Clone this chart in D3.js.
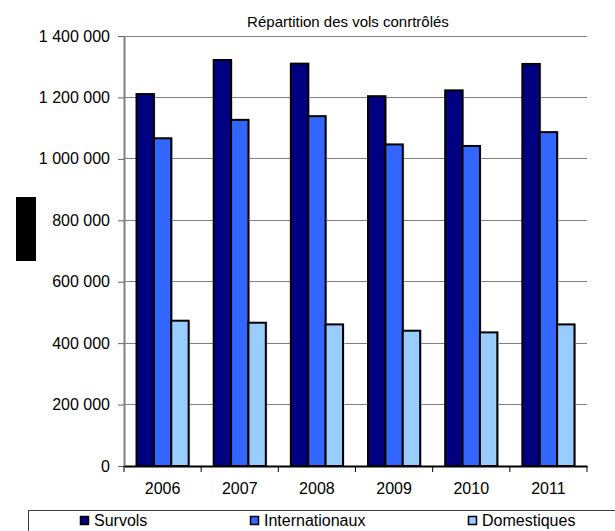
<!DOCTYPE html>
<html>
<head>
<meta charset="utf-8">
<script src="https://cdn.jsdelivr.net/npm/d3@7"></script>
<style>
  body { margin: 0; background: #fff; }
  svg { display: block; font-family: "Liberation Sans", Arial, sans-serif; }
</style>
</head>
<body>
<svg id="chart" width="615" height="531"></svg>
<script>
// data
const years = ["2006", "2007", "2008", "2009", "2010", "2011"];
const seriesNames = ["Survols", "Internationaux", "Domestiques"];
const survols        = [1211000, 1322000, 1310000, 1204000, 1223000, 1309000];
const internationaux = [1067000, 1127000, 1139000, 1047000, 1042000, 1087000];
const domestiques    = [473000, 466500, 461000, 440500, 435000, 461000];
const yTicks = [0, 200000, 400000, 600000, 800000, 1000000, 1200000, 1400000];

const colors = ["#000080", "#3366FF", "#99CCFF"];
const allSeries = [survols, internationaux, domestiques];

const svg = d3.select("#chart");

// plot area
const plotL = 124, plotR = 587, plotT = 36, plotB = 466;

const x = d3.scaleBand().domain(years).range([plotL, plotR]).padding(0);
const xSub = d3.scaleBand().domain(seriesNames).range([0, x.bandwidth()])
  .paddingInner(0).paddingOuter(0.72);
const y = d3.scaleLinear().domain([0, 1400000]).range([plotB, plotT]);

const fmt = v => d3.format(",")(v).replace(/,/g, " ");

// gridlines
svg.append("g")
  .selectAll("line")
  .data(yTicks.filter(d => d > 0))
  .join("line")
    .attr("x1", plotL).attr("x2", plotR)
    .attr("y1", d => y(d)).attr("y2", d => y(d))
    .attr("stroke", "#808080").attr("stroke-width", 1)
    .attr("shape-rendering", "crispEdges");

// y axis
const yAxis = svg.append("g")
  .attr("transform", `translate(${plotL},0)`)
  .call(d3.axisLeft(y).tickValues(yTicks).tickFormat(fmt).tickSize(6).tickSizeOuter(0));
yAxis.select(".domain").attr("stroke", "#808080").attr("stroke-width", 2);
yAxis.selectAll(".tick line").attr("stroke", "#606060");
yAxis.selectAll(".tick text")
  .attr("x", -14)
  .attr("font-size", 16)
  .attr("font-family", "Liberation Sans, Arial, sans-serif")
  .attr("fill", "#000");

// bars
const groups = svg.append("g")
  .selectAll("g")
  .data(years)
  .join("g")
    .attr("transform", d => `translate(${x(d)},0)`);

groups.selectAll("rect.shadow")
  .data((d, i) => allSeries.map((s, k) => ({ name: seriesNames[k], v: s[i], k })))
  .join("rect")
    .attr("class", "shadow")
    .attr("x", d => xSub(d.name) + 1.5)
    .attr("y", d => y(d.v) - 0.5)
    .attr("width", xSub.bandwidth())
    .attr("height", d => plotB - y(d.v))
    .attr("fill", "#c8c8c8");

groups.selectAll("rect.bar")
  .data((d, i) => allSeries.map((s, k) => ({ name: seriesNames[k], v: s[i], k })))
  .join("rect")
    .attr("class", "bar")
    .attr("x", d => xSub(d.name))
    .attr("y", d => y(d.v))
    .attr("width", xSub.bandwidth())
    .attr("height", d => plotB - y(d.v))
    .attr("fill", d => colors[d.k])
    .attr("stroke", "#000")
    .attr("stroke-width", 2);

// x axis
const xAxis = svg.append("g")
  .attr("transform", `translate(0,${plotB})`)
  .call(d3.axisBottom(x).tickSize(0).tickSizeOuter(0));
xAxis.select(".domain").attr("stroke", "#000").attr("stroke-width", 2);
xAxis.selectAll(".tick text")
  .attr("y", 28)
  .attr("dy", 0)
  .attr("font-size", 16)
  .attr("font-family", "Liberation Sans, Arial, sans-serif")
  .attr("fill", "#000");
// category separator ticks
svg.append("g")
  .selectAll("line")
  .data(years.concat(["end"]))
  .join("line")
    .attr("x1", (d, i) => plotL + i * x.step())
    .attr("x2", (d, i) => plotL + i * x.step())
    .attr("y1", plotB).attr("y2", plotB + 6)
    .attr("stroke", "#000").attr("stroke-width", 1);

// title
svg.append("text")
  .attr("x", 348).attr("y", 27)
  .attr("text-anchor", "middle")
  .attr("font-size", 15)
  .text("Répartition des vols conrtrôlés");

// redacted axis title block
svg.append("rect")
  .attr("x", 16).attr("y", 197)
  .attr("width", 20).attr("height", 64)
  .attr("fill", "#000");

// legend
const legend = svg.append("g");
legend.append("rect")
  .attr("x", 28.5).attr("y", 510.5)
  .attr("width", 600).attr("height", 40)
  .attr("fill", "#fff").attr("stroke", "#404040").attr("stroke-width", 1);

const legendX = [80, 250, 468];
const items = legend.selectAll("g")
  .data(seriesNames)
  .join("g")
    .attr("transform", (d, i) => `translate(${legendX[i]},0)`);
items.append("rect")
  .attr("x", 0.5).attr("y", 516.5)
  .attr("width", 8).attr("height", 8)
  .attr("fill", (d, i) => colors[i])
  .attr("stroke", "#000").attr("stroke-width", 1.5);
items.append("text")
  .attr("x", 14).attr("y", 525.5)
  .attr("font-size", 16)
  .text(d => d);
</script>
</body>
</html>
